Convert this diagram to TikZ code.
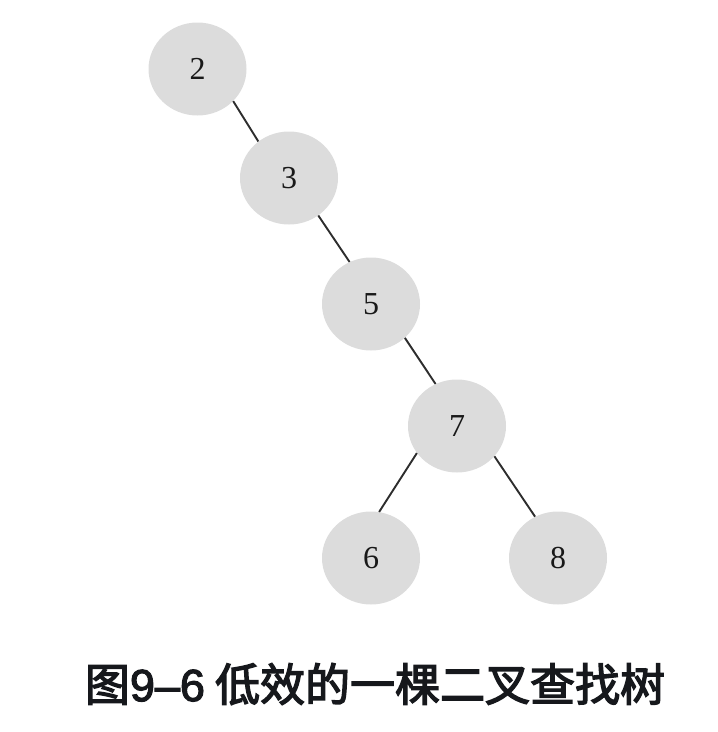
\documentclass[tikz,border=0pt]{standalone}
\usepackage{fontspec}
\setmainfont{Liberation Serif}
\newfontfamily\cjk{Noto Sans CJK SC}[FakeBold=3]
\newfontfamily\capdigits{Liberation Sans}[FakeBold=2.5]
\usetikzlibrary{shapes.geometric}
\definecolor{nodefill}{RGB}{220,220,220}
\definecolor{edgecol}{RGB}{45,45,45}
\definecolor{captext}{RGB}{22,24,28}
\tikzset{
  treenode/.style={ellipse, fill=nodefill, draw=none, minimum width=98pt, minimum height=93pt, inner sep=0pt, font=\fontsize{32}{32}\selectfont, text=black!90},
  treeedge/.style={draw=edgecol, line width=1.9pt}
}
\begin{document}
\begin{tikzpicture}[x=1pt,y=-1pt]
\useasboundingbox (0,0) rectangle (718,732);
\node[treenode] (n2) at (197.5,69) {2};
\node[treenode] (n3) at (289,178) {3};
\node[treenode] (n5) at (371,304) {5};
\node[treenode] (n7) at (457,426) {7};
\node[treenode] (n6) at (371,558) {6};
\node[treenode] (n8) at (558,558) {8};
\draw[treeedge] (n2.318) -- (n3.130);
\draw[treeedge] (n3.308) -- (n5.117);
\draw[treeedge] (n5.315) -- (n7.117);
\draw[treeedge] (n7.214) -- (n6.80);
\draw[treeedge] (n7.321) -- (n8.119);
\node[font=\cjk\fontsize{45}{45}\selectfont, text=captext] (cap) at (375,684) {图{\capdigits 9–6} 低效的一棵二叉查找树};
\end{tikzpicture}
\end{document}
